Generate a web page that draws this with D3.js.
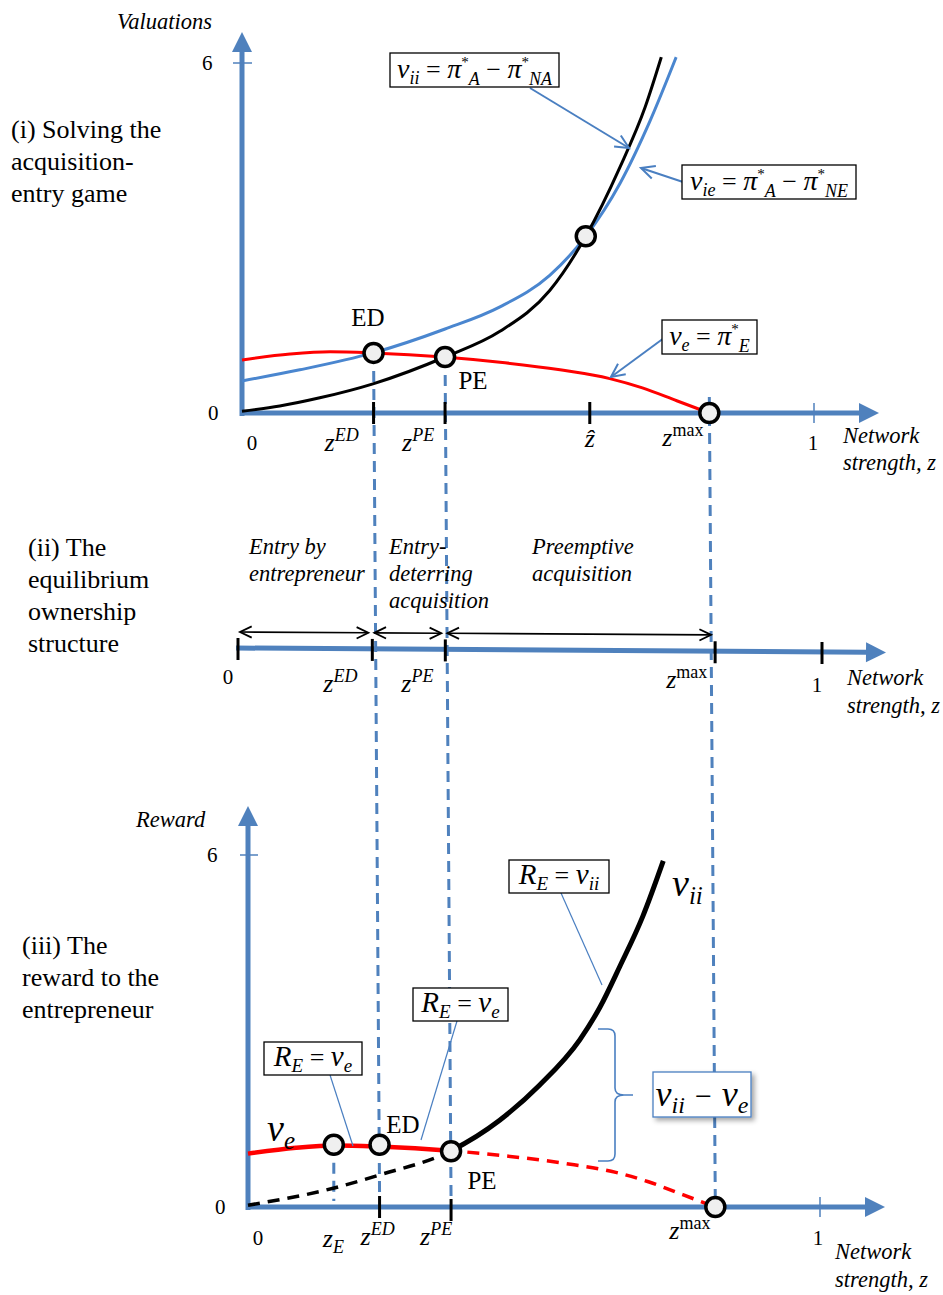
<!DOCTYPE html>
<html><head><meta charset="utf-8">
<script src="https://cdn.jsdelivr.net/npm/d3@7"></script>
<style>body{margin:0;background:#fff} svg{display:block} text{white-space:pre}</style>
</head><body>
<svg id="c" width="943" height="1295"></svg>
<script>
// ---------------- DATA ----------------
const zE = 0.15, zED = 0.23, zPE = 0.355, zHat = 0.608, zMax = 0.817;
const yTickValues = [0, 6];
const xTickEnds = [0, 1];
// v_ii = pi*_A - pi*_NA (black, panel i)
const viiZ = [0, 0.066, 0.136, 0.229, 0.355, 0.451, 0.538, 0.601, 0.661, 0.705, 0.733];
const viiV = [0.03, 0.12, 0.26, 0.50, 0.96, 1.40, 2.10, 3.03, 4.22, 5.25, 6.1];
// v_ie = pi*_A - pi*_NE (blue, panel i)
const vieZ = [0, 0.101, 0.229, 0.355, 0.451, 0.538, 0.601, 0.661, 0.713, 0.759];
const vieV = [0.55, 0.74, 1.03, 1.44, 1.82, 2.36, 3.03, 3.94, 5.0, 6.1];
// v_e = pi*_E (red)
const veZ = [0, 0.084, 0.154, 0.229, 0.353, 0.451, 0.556, 0.643, 0.70, 0.76, 0.817];
const veV = [0.91, 1.01, 1.05, 1.03, 0.96, 0.87, 0.74, 0.59, 0.43, 0.21, 0];
// reward R_E along v_ii (black, panel iii)
const rwZ = [0, 0.149, 0.231, 0.353, 0.44, 0.51, 0.58, 0.615, 0.65, 0.69, 0.726];
const rwV = [0.03, 0.32, 0.55, 0.95, 1.48, 2.08, 2.85, 3.4, 4.1, 4.95, 5.9];
// marked points
const p1CircleZ = [zED, zPE, 0.601, zMax];
const p1CircleV = [1.03, 0.96, 3.03, 0];
const p3CircleZ = [zE, zED, zPE, zMax];
const p3CircleV = [1.06, 1.06, 0.95, 0];
const regionLabels = [["Entry by", "entrepreneur"], ["Entry-", "deterring", "acquisition"], ["Preemptive", "acquisition"]];

// ---------------- SETUP ----------------
const SERIF = "'Liberation Serif','Times New Roman',serif";
const AX = "#4f81bd", BLUE = "#4a86cf", RED = "#ff0000";
const svg = d3.select("#c");
const defs = svg.append("defs");
const f = defs.append("filter").attr("id", "sh").attr("x", "-20%").attr("y", "-20%").attr("width", "150%").attr("height", "160%");
f.append("feDropShadow").attr("dx", 3).attr("dy", 3).attr("stdDeviation", 2.5).attr("flood-color", "#000").attr("flood-opacity", 0.35);

const xI = d3.scaleLinear().domain([0, 1]).range([242, 814]);
const yI = d3.scaleLinear().domain([0, 6]).range([413, 63]);
const xII = d3.scaleLinear().domain([0, 1]).range([238, 822]);
const yIIat = x => 648 + (x - 236) * 0.0068;
const xIII = d3.scaleLinear().domain([0, 1]).range([248, 820]);
const yIII = d3.scaleLinear().domain([0, 6]).range([1207, 855]);

function pts(zs, vs) { return zs.map((z, i) => [z, vs[i]]); }
const vii = pts(viiZ, viiV), vie = pts(vieZ, vieV), ve = pts(veZ, veV), rw = pts(rwZ, rwV);

function mt(sel, x, y, parts, anchor) {
  const t = sel.append("text").attr("x", x).attr("y", y).attr("font-family", SERIF)
    .attr("text-anchor", anchor || "start").attr("fill", "#000");
  let cur = 0;
  parts.forEach(p => {
    const sh = p.sh || 0;
    const ts = t.append("tspan").text(p.t).attr("font-size", p.s)
      .attr("font-style", p.i ? "italic" : "normal");
    if (sh - cur !== 0) ts.attr("dy", -(sh - cur));
    if (p.dx) ts.attr("dx", p.dx);
    cur = sh;
  });
  return t;
}
function plain(x, y, txt, size, italic, anchor) {
  return svg.append("text").attr("x", x).attr("y", y).attr("font-family", SERIF)
    .attr("font-size", size).attr("font-style", italic ? "italic" : "normal")
    .attr("text-anchor", anchor || "start").attr("fill", "#000").text(txt);
}
function axisArrow(x1, y1, x2, y2, w, hl, hw) {
  const a = Math.atan2(y2 - y1, x2 - x1), c = Math.cos(a), s = Math.sin(a);
  const bx = x2 - hl * c, by = y2 - hl * s;
  svg.append("line").attr("x1", x1).attr("y1", y1).attr("x2", bx + c).attr("y2", by + s)
    .attr("stroke", AX).attr("stroke-width", w);
  svg.append("path").attr("d", `M${x2},${y2}L${bx - hw * s},${by + hw * c}L${bx + hw * s},${by - hw * c}Z`).attr("fill", AX);
}
function openHead(g, x2, y2, a, len, col, w) {
  const d = [a + Math.PI - 0.45, a + Math.PI + 0.45].map(t => [x2 + len * Math.cos(t), y2 + len * Math.sin(t)]);
  g.append("path").attr("d", `M${d[0][0]},${d[0][1]}L${x2},${y2}L${d[1][0]},${d[1][1]}`)
    .attr("fill", "none").attr("stroke", col).attr("stroke-width", w);
}
function annArrow(x1, y1, x2, y2) {
  svg.append("line").attr("x1", x1).attr("y1", y1).attr("x2", x2).attr("y2", y2)
    .attr("stroke", "#4a7fc1").attr("stroke-width", 2);
  openHead(svg, x2, y2, Math.atan2(y2 - y1, x2 - x1), 15, "#4a7fc1", 2);
}
function annLine(x1, y1, x2, y2) {
  svg.append("line").attr("x1", x1).attr("y1", y1).attr("x2", x2).attr("y2", y2)
    .attr("stroke", "#4a7fc1").attr("stroke-width", 1.2);
}
function box(x, y, w, h, parts, stroke, shadow, base) {
  const r = svg.append("rect").attr("x", x).attr("y", y).attr("width", w).attr("height", h)
    .attr("fill", "#fff").attr("stroke", stroke || "#000").attr("stroke-width", 1.3);
  if (shadow) r.attr("filter", "url(#sh)");
  mt(svg, x + w / 2, y + h - (base || 9), parts, "middle");
}
const zlab = (sup) => [{ t: "z", s: 26, i: 1 }, { t: sup, s: 18, i: sup !== "max", sh: 10 }];
const pistar = (sub) => [{ t: "π", s: 28, i: 1 }, { t: "*", s: 15, sh: 11 }, { t: sub, s: 18, i: 1, sh: -7 }];
const OP = (o, s) => ({ t: "\u00A0" + o + "\u00A0", s: s || 26 });

// ---------------- DASHED GUIDE LINES ----------------
const guides = [
  [zED, yI(1.03), 1195],
  [zPE, yI(0.96), 1200],
  [zMax, 397, 1205]
];
guides.forEach(g => {
  svg.append("line").attr("x1", xI(g[0])).attr("y1", g[1]).attr("x2", xIII(g[0])).attr("y2", g[2])
    .attr("stroke", AX).attr("stroke-width", 3).attr("stroke-dasharray", "11,7");
});
svg.append("line").attr("x1", xIII(zE)).attr("y1", yIII(1.06)).attr("x2", xIII(zE)).attr("y2", 1201)
  .attr("stroke", AX).attr("stroke-width", 3).attr("stroke-dasharray", "11,7");

// ---------------- PANEL (i) ----------------
axisArrow(242, 416, 242, 32, 5, 20, 10);
axisArrow(240, 413, 879, 413, 5, 20, 10);
svg.append("line").attr("x1", 233).attr("x2", 252).attr("y1", yI(6)).attr("y2", yI(6)).attr("stroke", AX).attr("stroke-width", 1.5);
svg.append("line").attr("x1", xI(1)).attr("x2", xI(1)).attr("y1", 403).attr("y2", 423).attr("stroke", AX).attr("stroke-width", 1.5);
[zED, zPE, zHat].forEach(z => svg.append("line").attr("x1", xI(z)).attr("x2", xI(z)).attr("y1", 402).attr("y2", 424).attr("stroke", "#000").attr("stroke-width", 3));

const line1 = d3.line().x(d => xI(d[0])).y(d => yI(d[1])).curve(d3.curveMonotoneX);
svg.append("path").attr("d", line1(ve)).attr("fill", "none").attr("stroke", RED).attr("stroke-width", 3);
svg.append("path").attr("d", line1(vie)).attr("fill", "none").attr("stroke", BLUE).attr("stroke-width", 3);
svg.append("path").attr("d", line1(vii)).attr("fill", "none").attr("stroke", "#000").attr("stroke-width", 3);

p1CircleZ.forEach((z, i) => svg.append("circle").attr("cx", xI(z)).attr("cy", yI(p1CircleV[i])).attr("r", 9.5)
  .attr("fill", "#efefef").attr("stroke", "#000").attr("stroke-width", 3.5));

plain(368, 326, "ED", 25, false, "middle");
plain(473, 389, "PE", 25, false, "middle");
plain(117, 29, "Valuations", 22.5, true);
yTickValues.forEach(v => plain(v === 0 ? 208 : 202, yI(v) + 7, String(v), 21));
xTickEnds.forEach(v => plain(v === 0 ? 252 : 813, 450, String(v), 21, false, "middle"));
mt(svg, xI(zED) - 49, 451, zlab("ED"));
mt(svg, xI(zPE) - 43, 451, zlab("PE"));
plain(xI(zHat), 447, "ẑ", 26, true, "middle");
mt(svg, xI(zMax) - 47, 446, zlab("max"));
plain(843, 443, "Network", 22.5, true);
plain(843, 470, "strength, z", 22.5, true);

annArrow(530, 88, 629, 148);
annArrow(683, 182, 641, 168);
annArrow(664, 338, 611, 377);
box(390, 53, 169, 34, [{ t: "v", s: 28, i: 1 }, { t: "ii", s: 18, i: 1, sh: -6 }, OP("=")]
  .concat(pistar("A"), [OP("−")], pistar("NA")));
box(682, 165, 174, 34, [{ t: "v", s: 28, i: 1 }, { t: "ie", s: 18, i: 1, sh: -6 }, OP("=")]
  .concat(pistar("A"), [OP("−")], pistar("NE")));
box(662, 320, 95, 34, [{ t: "v", s: 28, i: 1 }, { t: "e", s: 18, i: 1, sh: -6 }, OP("=")].concat(pistar("E")));

["(i) Solving the", "acquisition-", "entry game"].forEach((t, i) => plain(11, 138 + 32 * i, t, 26));

// ---------------- PANEL (ii) ----------------
axisArrow(236, yIIat(236), 886, yIIat(886), 5, 20, 10);
[0, zED, zPE, zMax, 1].forEach(z => {
  const x = xII(z), y = yIIat(x);
  svg.append("line").attr("x1", x).attr("x2", x).attr("y1", y - 10).attr("y2", y + 12).attr("stroke", "#000").attr("stroke-width", 3);
});
const segs = [[0, zED], [zED, zPE], [zPE, zMax]];
segs.forEach(s => {
  const x1 = xII(s[0]) + 2, x2 = xII(s[1]) - 4;
  const ya = x => 632 + (x - 236) * 0.006;
  svg.append("line").attr("x1", x1).attr("y1", ya(x1)).attr("x2", x2).attr("y2", ya(x2)).attr("stroke", "#000").attr("stroke-width", 1.6);
  openHead(svg, x2, ya(x2), 0, 13, "#000", 1.8);
  openHead(svg, x1, ya(x1), Math.PI, 13, "#000", 1.8);
});
plain(228, 684, "0", 21, false, "middle");
plain(817, 692, "1", 21, false, "middle");
mt(svg, xII(zED) - 49, 692, zlab("ED"));
mt(svg, xII(zPE) - 44, 692, zlab("PE"));
mt(svg, xII(zMax) - 49, 688, zlab("max"));
plain(847, 685, "Network", 22.5, true);
plain(847, 713, "strength, z", 22.5, true);
const regX = [249, 389, 532];
regionLabels.forEach((lines, j) => lines.forEach((t, i) => plain(regX[j], 554 + 27 * i, t, 22.5, true)));
["(ii) The", "equilibrium", "ownership", "structure"].forEach((t, i) => plain(28, 556 + 32 * i, t, 26));

// ---------------- PANEL (iii) ----------------
axisArrow(248, 1210, 248, 806, 5, 20, 10);
axisArrow(246, 1207, 885, 1207, 5, 20, 10);
svg.append("line").attr("x1", 240).attr("x2", 258).attr("y1", yIII(6)).attr("y2", yIII(6)).attr("stroke", AX).attr("stroke-width", 1.5);
svg.append("line").attr("x1", xIII(1)).attr("x2", xIII(1)).attr("y1", 1197).attr("y2", 1217).attr("stroke", AX).attr("stroke-width", 1.5);
[zED, zPE].forEach((z, i) => svg.append("line").attr("x1", xIII(z)).attr("x2", xIII(z)).attr("y1", 1196 + 3 * i).attr("y2", 1218 + 3 * i).attr("stroke", "#000").attr("stroke-width", 3));

defs.append("clipPath").attr("id", "cL").append("rect").attr("x", 0).attr("y", 780).attr("width", xIII(zPE)).attr("height", 500);
defs.append("clipPath").attr("id", "cR").append("rect").attr("x", xIII(zPE)).attr("y", 780).attr("width", 600).attr("height", 500);
const line3 = d3.line().x(d => xIII(d[0])).y(d => yIII(d[1])).curve(d3.curveMonotoneX);
svg.append("path").attr("d", line3(ve)).attr("clip-path", "url(#cR)").attr("fill", "none").attr("stroke", RED).attr("stroke-width", 3.5).attr("stroke-dasharray", "12,8");
svg.append("path").attr("d", line3(rw)).attr("clip-path", "url(#cL)").attr("fill", "none").attr("stroke", "#000").attr("stroke-width", 3.5).attr("stroke-dasharray", "12,8");
svg.append("path").attr("d", line3(ve)).attr("clip-path", "url(#cL)").attr("fill", "none").attr("stroke", RED).attr("stroke-width", 4.5);
svg.append("path").attr("d", line3(rw)).attr("clip-path", "url(#cR)").attr("fill", "none").attr("stroke", "#000").attr("stroke-width", 5);

p3CircleZ.forEach((z, i) => svg.append("circle").attr("cx", xIII(z)).attr("cy", yIII(p3CircleV[i])).attr("r", 9.5)
  .attr("fill", "#efefef").attr("stroke", "#000").attr("stroke-width", 3.5));

plain(403, 1133, "ED", 25, false, "middle");
plain(482, 1189, "PE", 25, false, "middle");
plain(136, 827, "Reward", 22.5, true);
yTickValues.forEach(v => plain(v === 0 ? 215 : 207, yIII(v) + 7, String(v), 21));
xTickEnds.forEach(v => plain(v === 0 ? 258 : 818, 1245, String(v), 21, false, "middle"));
mt(svg, xIII(zE) - 11, 1247, [{ t: "z", s: 26, i: 1 }, { t: "E", s: 18, i: 1, sh: -6 }]);
mt(svg, xIII(zED) - 19, 1245, zlab("ED"));
mt(svg, xIII(zPE) - 31, 1245, zlab("PE"));
mt(svg, xIII(zMax) - 46, 1239, zlab("max"));
plain(835, 1259, "Network", 22.5, true);
plain(835, 1287, "strength, z", 22.5, true);
mt(svg, 267, 1141, [{ t: "v", s: 38, i: 1 }, { t: "e", s: 25, i: 1, sh: -8 }]);
mt(svg, 672, 896, [{ t: "v", s: 38, i: 1 }, { t: "ii", s: 25, i: 1, sh: -8 }]);

annLine(561, 893, 602, 985);
annLine(457, 1021, 421, 1140);
annLine(330, 1075, 353, 1146);
const RE = (rhs) => [{ t: "R", s: 29, i: 1 }, { t: "E", s: 19, i: 1, sh: -6 }, OP("="), { t: "v", s: 29, i: 1 }, { t: rhs, s: 19, i: 1, sh: -6 }];
box(509, 860, 100, 33, RE("ii"));
box(413, 988, 95, 33, RE("e"));
box(264, 1042, 98, 33, RE("e"));

// brace
svg.append("path").attr("d", "M598,1029 L608,1029 Q615,1029 615,1036 L615,1088 Q615,1095 624,1095 L633,1095 M624,1095 Q615,1095 615,1102 L615,1154 Q615,1161 608,1161 L598,1161")
  .attr("fill", "none").attr("stroke", "#4a7fc1").attr("stroke-width", 1.6);
box(653, 1072, 98, 45, [{ t: "v", s: 36, i: 1 }, { t: "ii", s: 24, i: 1, sh: -7 }, { t: "\u2004−\u2004", s: 30 }, { t: "v", s: 36, i: 1 }, { t: "e", s: 24, i: 1, sh: -7 }], "#4a7fc1", true, 11);

["(iii) The", "reward to the", "entrepreneur"].forEach((t, i) => plain(22, 954 + 32 * i, t, 26));
</script>
</body></html>
